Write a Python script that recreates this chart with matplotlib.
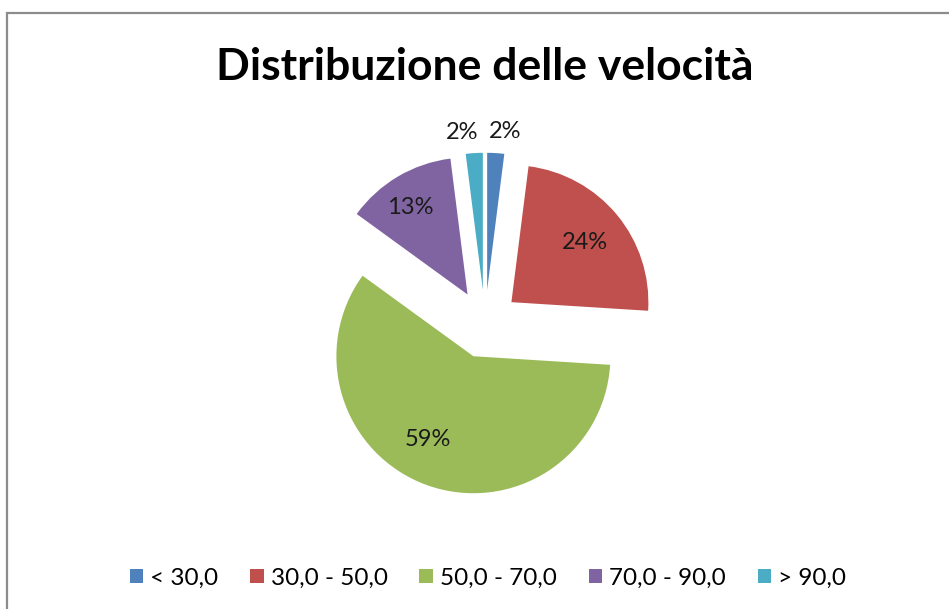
import matplotlib
matplotlib.use("Agg")
import matplotlib.pyplot as plt
from matplotlib.patches import Rectangle
import numpy as np

categories = ["< 30,0", "30,0 - 50,0", "50,0 - 70,0", "70,0 - 90,0", "> 90,0"]
values = [2, 24, 59, 13, 2]
colors = ["#4F81BD", "#C0504D", "#9BBB59", "#8064A2", "#4BACC6"]
title = "Distribuzione delle velocità"

W, H = 949, 609
fig = plt.figure(figsize=(W / 100, H / 100), dpi=100)
fig.patch.set_facecolor("white")

# frame (chart area border)
fig.patches.append(Rectangle((7 / W, -0.1), 1.2, (H - 13.5) / H + 0.1,
                             transform=fig.transFigure, fill=False,
                             edgecolor="#8c8c8c", linewidth=1.6, zorder=0))

ax = fig.add_axes([0, 0, 1, 1])
cx, cy, r = 485, H - 324, 137
expl_frac = 0.25
explode = [expl_frac * r] * len(values)

wedges, _ = ax.pie(values, colors=colors, startangle=90, counterclock=False,
                   center=(cx, cy), radius=r, explode=explode,
                   wedgeprops=dict(linewidth=0))
ax.set_xlim(0, W)
ax.set_ylim(0, H)
ax.set_aspect("auto")
ax.axis("off")

font = "Lato"
# data labels: (radial fraction of radius, angle shift in degrees)
label_place = [(1.16, -2.4), (0.69, -0.6), (0.69, -6.4), (0.76, 2.3), (1.16, 3.2)]
total = sum(values)
start = 90.0
for v, (fr, da) in zip(values, label_place):
    span = 360.0 * v / total
    mid = start - span / 2
    start -= span
    ang = np.deg2rad(mid + da)
    rad = expl_frac * r + fr * r
    x = cx + rad * np.cos(ang)
    y = cy + rad * np.sin(ang)
    ax.text(x, y, f"{v}%", ha="center", va="center", fontsize=17,
            family=font, color="#1a1a1a")

fig.text(485 / W, 1 - 67 / H, title, ha="center", va="center",
         fontsize=32, fontweight="bold", family=font, color="black")

leg = fig.legend(wedges, categories, loc="center", bbox_to_anchor=(488 / W, 1 - 578 / H),
                 ncol=5, frameon=False, prop=dict(family=font, size=17.5),
                 handlelength=0.55, handleheight=0.55, handletextpad=0.3,
                 columnspacing=1.3)

fig.savefig("out.png", dpi=100)
